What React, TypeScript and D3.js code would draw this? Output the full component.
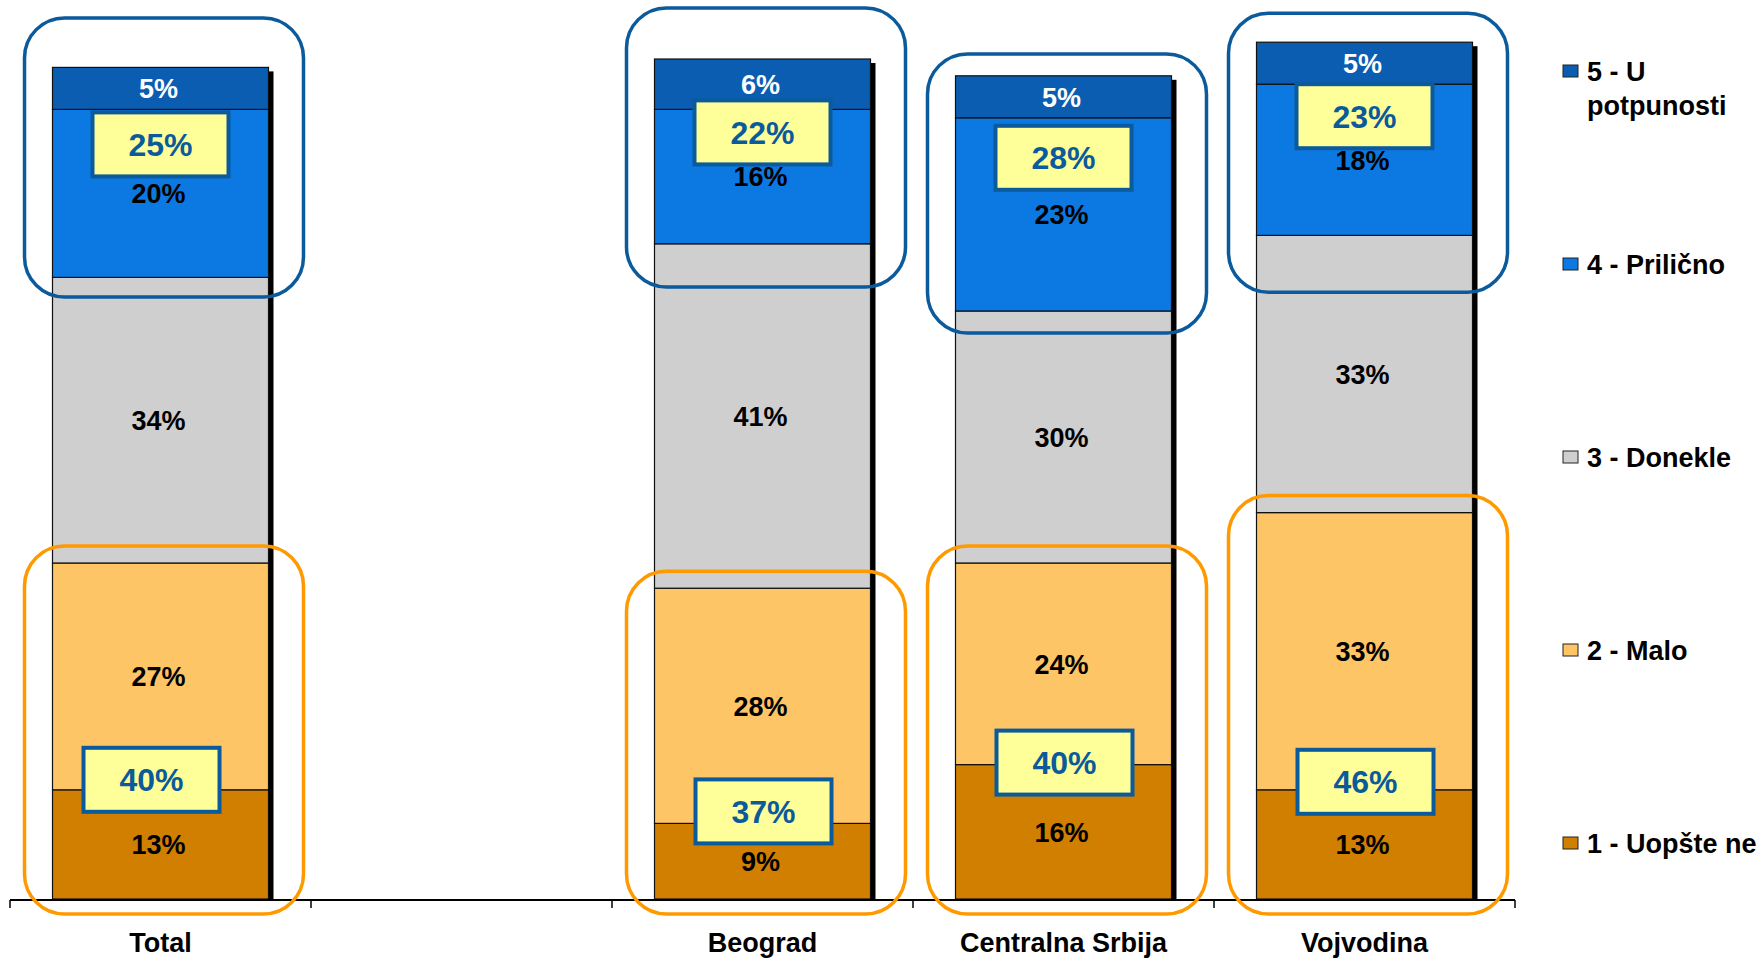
import React from "react";
import * as d3 from "d3";

const categories = ["Total", "", "Beograd", "Centralna Srbija", "Vojvodina"];
const seriesKeys = ["s1", "s2", "s3", "s4", "s5"];
const seriesNames = ["1 - Uopšte ne", "2 - Malo", "3 - Donekle", "4 - Prilično", "5 - U potpunosti"];
const legendLines = [["1 - Uopšte ne"], ["2 - Malo"], ["3 - Donekle"], ["4 - Prilično"], ["5 - U", "potpunosti"]];
const uopsteNe = [13, null, 9, 16, 13];
const malo = [27, null, 28, 24, 33];
const donekle = [34, null, 41, 30, 33];
const prilicno = [20, null, 16, 23, 18];
const uPotpunosti = [5, null, 6, 5, 5];
const topTwoBox = [25, null, 22, 28, 23];
const bottomTwoBox = [40, null, 37, 40, 46];
const seriesColors = ["#D17F00", "#FDC566", "#CFCFCF", "#0C79E3", "#0A5DB1"];
const labelColors = ["#000", "#000", "#000", "#000", "#fff"];

// hand placement nudges of the annotations (px), as in the original slide
const topBoxNudgeY = [3, 0, -9, 8, 0];
const bottomBoxNudgeY = [-2, 0, -4, 6, 0];
const bottomBoxNudgeX = [-9, 0, 1, 1, 1];
const blueFrameNudgeY = [-10, 0, 1, 5, 19];

const W = 1763;
const H = 958;
const FONT = "'Liberation Sans', Arial, sans-serif";
const BOX_BLUE = "#0B5A9C";

export default function App() {
  const x = d3.scaleBand<string>().domain(categories).range([10, 1515]).paddingInner(0.2824).paddingOuter(0.1412);
  const y = d3.scaleLinear().domain([0, 100]).range([899, 59]);
  const bw = x.bandwidth();

  const table = categories
    .map((c, i) => ({
      cat: c,
      idx: i,
      s1: uopsteNe[i],
      s2: malo[i],
      s3: donekle[i],
      s4: prilicno[i],
      s5: uPotpunosti[i],
    }))
    .filter((d) => d.s1 !== null);

  const stacked = d3.stack<any>().keys(seriesKeys)(table);

  const step = x.step();
  const tickXs = categories
    .map((c) => (x(c) as number) - (step - bw) / 2)
    .concat([(x(categories[categories.length - 1]) as number) + bw + (step - bw) / 2]);

  const legendY = (k: number) => 71 + (4 - k) * 193;

  return (
    <svg width={W} height={H} style={{ position: "absolute", left: 0, top: 0, background: "#fff" }} fontFamily={FONT}>
      {/* shadows */}
      {table.map((d) => {
        const x0 = x(d.cat) as number;
        const top = stacked[4].find((s: any) => s.data.cat === d.cat)![1];
        return <rect key={"sh" + d.cat} x={x0 + 5} y={y(top) + 4} width={bw} height={y(0) - y(top) - 3} fill="#000" />;
      })}
      {/* segments */}
      {stacked.map((layer: any, k: number) =>
        layer.map((s: any) => {
          const x0 = x(s.data.cat) as number;
          return (
            <rect
              key={layer.key + s.data.cat}
              x={x0}
              y={y(s[1])}
              width={bw}
              height={y(s[0]) - y(s[1])}
              fill={seriesColors[k]}
              stroke="#111"
              strokeWidth={1.2}
            />
          );
        })
      )}
      {/* axis */}
      <line x1={tickXs[0]} x2={tickXs[tickXs.length - 1]} y1={900} y2={900} stroke="#000" strokeWidth={2} />
      {tickXs.map((tx, i) => (
        <line key={"t" + i} x1={tx} x2={tx} y1={900} y2={908} stroke="#000" strokeWidth={1.5} />
      ))}
      {/* segment labels */}
      {stacked.map((layer: any, k: number) =>
        layer.map((s: any) => {
          const x0 = x(s.data.cat) as number;
          const v = s[1] - s[0];
          return (
            <text
              key={"l" + layer.key + s.data.cat}
              x={x0 + bw / 2 - 2}
              y={(y(s[0]) + y(s[1])) / 2}
              dy="0.36em"
              textAnchor="middle"
              fontWeight="bold"
              fontSize={27}
              fill={labelColors[k]}
            >
              {v}%
            </text>
          );
        })
      )}
      {/* highlight rounded rects */}
      {table.map((d) => {
        const x0 = x(d.cat) as number;
        const s = d as any;
        const total = s.s1 + s.s2 + s.s3 + s.s4 + s.s5;
        const c = (y(total) + y(s.s1 + s.s2 + s.s3)) / 2 - 5 + blueFrameNudgeY[d.idx];
        const oTop = y(s.s1 + s.s2) - 17;
        return (
          <g key={"hr" + d.cat}>
            <rect x={x0 - 28} y={c - 139.5} width={bw + 63} height={279} rx={40} ry={40} fill="none" stroke={BOX_BLUE} strokeWidth={3.5} />
            <rect x={x0 - 28} y={oTop} width={bw + 63} height={y(0) + 15 - oTop} rx={40} ry={40} fill="none" stroke="#FF9900" strokeWidth={3.5} />
          </g>
        );
      })}
      {/* yellow boxes */}
      {table.map((d) => {
        const i = d.idx;
        const s = d as any;
        const cx = (x(d.cat) as number) + bw / 2;
        const topCy = y(s.s1 + s.s2 + s.s3 + s.s4) + 32 + topBoxNudgeY[i];
        const botCy = y(s.s1) - 8 + bottomBoxNudgeY[i];
        const bcx = cx + bottomBoxNudgeX[i];
        return (
          <g key={"yb" + d.cat}>
            <rect x={cx - 68} y={topCy - 32} width={136} height={64} fill="#FFFF99" stroke={BOX_BLUE} strokeWidth={4} />
            <text x={cx} y={topCy} dy="0.36em" textAnchor="middle" fontWeight="bold" fontSize={32} fill={BOX_BLUE}>
              {topTwoBox[i]}%
            </text>
            <rect x={bcx - 68} y={botCy - 32} width={136} height={64} fill="#FFFF99" stroke={BOX_BLUE} strokeWidth={4} />
            <text x={bcx} y={botCy} dy="0.36em" textAnchor="middle" fontWeight="bold" fontSize={32} fill={BOX_BLUE}>
              {bottomTwoBox[i]}%
            </text>
          </g>
        );
      })}
      {/* category labels */}
      {categories.map((c) =>
        c ? (
          <text key={"c" + c} x={(x(c) as number) + bw / 2} y={952} textAnchor="middle" fontWeight="bold" fontSize={27} fill="#000">
            {c}
          </text>
        ) : null
      )}
      {/* legend */}
      {seriesNames.map((n, k) => (
        <g key={"lg" + k}>
          <rect x={1563} y={legendY(k) - 6} width={15} height={12} fill={seriesColors[k]} stroke="#222" strokeWidth={1} />
          {legendLines[k].map((ln, j) => (
            <text key={j} x={1587} y={legendY(k) + j * 34} dy="0.36em" fontWeight="bold" fontSize={27} fill="#000">
              {ln}
            </text>
          ))}
        </g>
      ))}
    </svg>
  );
}
